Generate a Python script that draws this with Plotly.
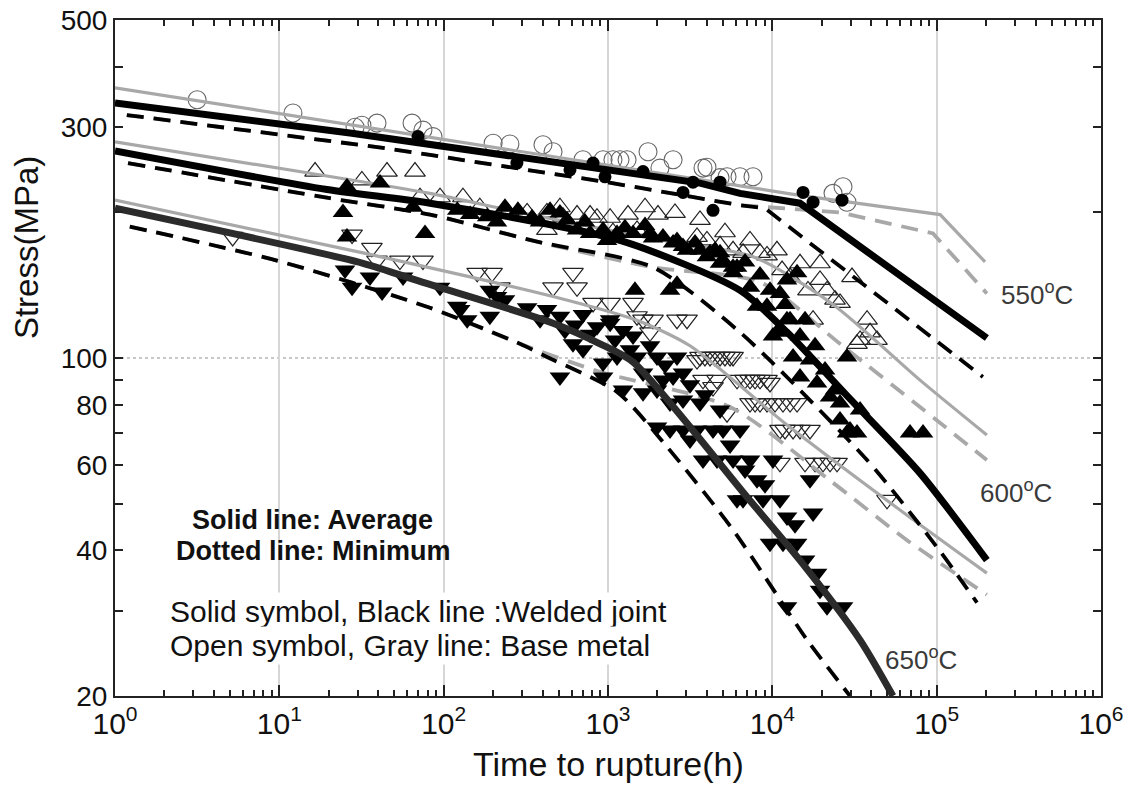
import plotly.graph_objects as go

# ---------------- DATA ----------------
# Axis ticks
x_tick_vals = [1, 10, 100, 1000, 10000, 100000, 1000000]
x_tick_text = ["10<sup>0</sup>", "10<sup>1</sup>", "10<sup>2</sup>", "10<sup>3</sup>",
               "10<sup>4</sup>", "10<sup>5</sup>", "10<sup>6</sup>"]
y_tick_vals = [20, 40, 60, 80, 100, 300, 500]
y_tick_text = ["20", "40", "60", "80", "100", "300", "500"]
y_minor_vals = [30, 50, 70, 90, 200, 400]

# 550 C  base metal (open circles)
t550_base = [3.16, 12.1, 28.9, 31.8, 39.3, 64.2, 74.8, 86.1, 200, 253, 402, 463, 704, 933,
             1072, 1183, 1306, 1752, 2071, 2489, 3786, 4002, 4806, 5300, 6357, 7628,
             23410, 26920, 28460]
s550_base = [342, 321, 300, 303, 306, 306, 296, 287, 278, 277, 276, 267, 257, 257,
             257, 257, 257, 267, 247, 257, 247, 248, 236, 237, 237, 237,
             219, 226, 210]
# 550 C  welded joint (solid circles)
t550_weld = [69.8, 279, 587, 811, 959, 1634, 2860, 3290, 4355, 4806, 15380, 17700, 26550]
s550_weld = [287, 253, 245, 253, 237, 243, 220, 231, 202, 231, 220, 210, 212]

# 600 C  base metal (open up-triangles)
t600_base = [16.5, 31.8, 45.2, 66.9, 71.8, 95, 131, 246, 322, 425, 532, 648, 857, 1030,
             1324, 2014, 1502, 1072, 425, 3481, 4002, 4806, 5768, 6633, 10670, 8414,
             12820, 19510, 21520, 30540, 25820, 17700, 37710, 34190, 43320, 39310, 32750,
             166, 510, 778, 1680, 2557, 3630, 5150, 7315, 9280, 11460, 14740, 16480,
             24060, 19510]
s600_base = [243, 233, 243, 243, 215, 215, 215, 200, 200, 200, 196, 198, 195, 195,
             198, 198, 184, 182, 184, 178, 175, 171, 167, 165, 167, 165,
             147, 145, 138, 147, 130, 120, 120, 109, 109, 113, 107,
             205, 205, 198, 205, 199.5, 193, 182, 175, 163, 152, 157, 138,
             132, 157]
# 600 C  welded joint (solid up-triangles)
t600_weld = [25.8, 41, 24.4, 65, 77, 25.8, 121, 184, 211, 283, 345, 444, 563, 648, 778,
             933, 1135, 1459, 1802, 2161, 2630, 2860, 3630, 4176, 5012, 6097, 2384, 2630,
             986, 1420, 1879, 2489, 3026, 4002, 4806, 5768, 4806, 5768, 7315, 8065, 9280,
             11130, 12280, 14140, 12820, 10670, 14740, 10090, 13370, 16950, 14740, 18710,
             22450, 25820, 29690, 28460, 28460, 32750, 68850, 82600, 12280,
             145, 236, 386, 510, 724, 1268, 1680, 3385, 4480, 6820, 8414, 9680, 11950,
             15810, 18190, 20930, 24060, 34190, 25820]
s600_weld = [226, 230, 200, 205, 181, 178, 202, 196, 191, 202, 195, 202, 193, 184, 181,
             184, 181, 138, 181, 178, 175, 170, 167, 165, 159, 154, 138, 142,
             175, 181, 177, 173, 167, 162, 157, 150, 165, 154, 140, 128, 128,
             136, 145, 150, 120, 113, 111, 111, 100.5, 99, 91.4, 88.8,
             83.1, 80.7, 71, 100.5, 70, 70, 70, 70, 120,
             198, 205, 191, 199.5, 191, 186, 188, 173, 167, 158, 148.5, 138, 129,
             120, 106, 94.5, 85.9, 78.1, 74.4]

# 650 C  base metal (open down-triangles)
t650_base = [5.2, 27.7, 36.6, 39.3, 74.8, 54.2, 160, 197, 220, 463, 612, 648, 811, 1030,
             1420, 1502, 1879, 2630, 3026, 1802, 1634, 4176, 4806, 5768, 3481, 3630, 3890,
             4480, 5150, 5530, 3786, 4605, 6097, 7315, 9280, 6820, 7850, 8414, 7315, 9280,
             11610, 14140, 7850, 8414, 10380, 12820, 5300, 13370, 16950, 11130, 11950,
             14740, 20350, 24760, 15810, 18190, 22450, 4355, 9680, 11130, 49880]
s650_base = [178, 180, 169, 159, 159, 159, 150, 150, 140, 140, 150, 140, 130, 130,
             130, 122, 120, 120, 120, 113, 120, 100.5, 100.5, 100.5, 99, 100.5, 100.5,
             100.5, 100.5, 100.5, 90.1, 90.1, 90.1, 90.1, 90.1, 90.1, 90.1, 90.1, 80.7, 80.7,
             80.7, 80.7, 80.7, 80.7, 80.7, 80.7, 76.9, 71, 71, 71, 71,
             71, 60.7, 60.7, 60.7, 60.7, 60.7, 87.1, 88.8, 60.7, 50.9]
# 650 C  welded joint (solid down-triangles)
t650_weld = [25.1, 27.7, 35.6, 42.2, 56.6, 95, 126, 139, 191, 121, 191, 211, 322, 425,
             510, 857, 1030, 1234, 612, 704, 510, 933, 1135, 1502, 1986, 2630, 1634, 2161,
             2860, 933, 1234, 1634, 1986, 2384, 2860, 3630, 1986, 2384, 2860, 3481, 4355,
             5012, 6357, 3786, 4605, 5768, 7315, 10090, 8065, 16950, 6633, 8775, 11130,
             12280, 17700, 9680, 11610, 14140, 18710, 21520, 26920, 12280, 1030, 1420,
             2489, 6097,
             236, 386, 547, 704, 778, 1103, 1361, 1802, 2223, 3155, 3890, 4806, 3155,
             5530, 6820, 9020, 13740, 15810, 19510, 630]
s650_weld = [152, 140, 147, 137, 147, 140, 126, 120, 138, 128, 122, 134, 127, 126,
             122, 116, 118, 114, 107, 104, 91.4, 97.7, 100.5, 100.5, 100.5, 100.5, 93.1, 90.1,
             93.1, 91.4, 85.9, 84.7, 85.9, 80.7, 81.9, 80.7, 72, 71, 71, 71, 71,
             71, 71, 61.5, 61.5, 61.5, 61.5, 61.5, 56, 56, 50.9, 50.9, 50.9,
             46.9, 47.8, 41.4, 41.4, 41.4, 35.9, 30.6, 30.6, 30.6, 120, 111,
             91.4, 50.9,
             132, 120, 114, 123, 112, 109, 104, 106, 96.7, 88, 83.9, 78.1, 67.7,
             66.1, 58.7, 54.7, 45.2, 38.2, 33.1, 117]

# Master curves (time h, stress MPa)
l550_gs_t = [1, 14700, 105000, 197000]
l550_gs_s = [362, 217, 198, 158]
l550_gd_t = [1.18, 42.7, 82.6, 986, 6360, 25800, 95000, 202000]
l550_gd_s = [318, 272, 263, 231, 207, 200, 181, 136]
l550_bs_t = [1, 26.9, 3630, 6360, 14700, 202000]
l550_bs_s = [337, 292, 230, 219, 209, 110]
l550_bd_t = [1.18, 42.7, 82.6, 986, 6360, 9020, 191000]
l550_bd_s = [318, 272, 263, 231, 207, 204, 91.4]

l600_gs_t = [1, 15.4, 82.6, 291, 1800, 7630, 23400, 79200, 202000]
l600_gs_s = [280, 241, 219, 200, 177, 162, 129, 90, 69.3]
l600_gd_t = [1.2, 20.3, 82.6, 370, 1880, 8410, 25800, 202000]
l600_gd_s = [253, 214, 198, 174, 154, 143.6, 107, 61.5]
l600_bs_t = [1, 19.5, 82.6, 1183, 6360, 12300, 30100, 79200, 202000]
l600_bs_s = [268, 223, 209, 175, 138, 113, 81.9, 57.8, 38.2]
l600_bd_t = [1.2, 20.3, 82.6, 370, 1880, 6360, 37700, 100000, 176000]
l600_bd_s = [253, 214, 198, 174, 154, 113, 61.5, 40.7, 31.2]

l650_gs_t = [1, 32.3, 463, 1566, 3155, 12300, 59800, 202000]
l650_gs_s = [212, 165, 134, 119, 106, 72.7, 48.5, 35.9]
l650_gd_t = [1.23, 9.68, 82.6, 291, 894, 5530, 23400, 66000, 202000]
l650_gd_s = [187, 159, 127, 107, 93.6, 79.2, 55.2, 42.0, 32.4]
l650_bs_t = [1, 32.3, 71.8, 463, 894, 1420, 7010, 14700, 34200, 54200]
l650_bs_s = [204, 157, 144, 118, 107, 98.1, 51.6, 38.2, 26.1, 20]
l650_bd_t = [1.23, 9.68, 82.6, 291, 425, 1135, 2287, 5770, 16300, 29700]
l650_bd_s = [187, 159, 127, 107, 100.5, 85.1, 65.5, 44.1, 26.1, 20]

# ---------------- STYLE ----------------
FONT = "Liberation Sans, Arial, sans-serif"
GRAY = "#a8a8a8"
BLACK = "#000000"
DARK = "#2b2b2b"
DASH = "17px,10px"

fig = go.Figure()


def markers(t, s, symbol, size, color, lw=1.2):
    m = dict(symbol=symbol, size=size, color=color, line=dict(width=lw, color=color))
    fig.add_trace(go.Scatter(x=t, y=s, mode="markers", marker=m, showlegend=False,
                             cliponaxis=True, hoverinfo="x+y"))


def curve(t, s, color, width, dash=None, smooth=False):
    line = dict(color=color, width=width, dash=dash)
    if smooth:
        line["shape"] = "spline"
        line["smoothing"] = 0.7
    fig.add_trace(go.Scatter(x=t, y=s, mode="lines", showlegend=False,
                             line=line, hoverinfo="x+y"))


# open markers (base metal)
markers(t550_base, s550_base, "circle-open", 18, "#666666", 1.1)
markers(t600_base, s600_base, "triangle-up-open", 18, "#222222", 1.2)
markers(t650_base, s650_base, "triangle-down-open", 18, "#222222", 1.2)

# curves: gray (base metal)
curve(l550_gd_t, l550_gd_s, GRAY, 3.8, DASH)
curve(l600_gd_t, l600_gd_s, GRAY, 3.8, DASH, smooth=True)
curve(l650_gd_t, l650_gd_s, GRAY, 3.8, DASH, smooth=True)
curve(l550_gs_t, l550_gs_s, GRAY, 3.2)
curve(l600_gs_t, l600_gs_s, GRAY, 3.2, smooth=True)
curve(l650_gs_t, l650_gs_s, GRAY, 3.2, smooth=True)
# curves: black dashed (welded joint minimum)
curve(l550_bd_t, l550_bd_s, BLACK, 3.8, DASH)
curve(l600_bd_t, l600_bd_s, BLACK, 3.8, DASH, smooth=True)
curve(l650_bd_t, l650_bd_s, BLACK, 3.8, DASH, smooth=True)

# solid markers (welded joint)
markers(t550_weld, s550_weld, "circle", 13, BLACK, 0)
markers(t600_weld, s600_weld, "triangle-up", 18, BLACK, 0)
markers(t650_weld, s650_weld, "triangle-down", 18, BLACK, 0)

# solid black curves (welded joint average)
curve(l550_bs_t, l550_bs_s, BLACK, 7)
curve(l600_bs_t, l600_bs_s, BLACK, 7, smooth=True)
curve(l650_bs_t, l650_bs_s, DARK, 7, smooth=True)

x_minor = [k * 10 ** d for d in range(0, 6) for k in range(2, 10)]

# The page body adds an 8px margin, so the figure is sized/offset to compensate
fig.update_layout(
    width=1123, height=778,
    margin=dict(l=107, r=30, t=12, b=90, autoexpand=False),
    paper_bgcolor="white", plot_bgcolor="white",
    font=dict(family=FONT, color="#111111"),
    showlegend=False,
    xaxis=dict(
        type="log", range=[0, 6], automargin=False, ticklabeloverflow="allow",
        tickmode="array", tickvals=x_tick_vals, ticktext=x_tick_text,
        tickfont=dict(size=30, family=FONT, color="#111111"),
        ticks="inside", ticklen=11, tickwidth=1.5, tickcolor="#222222",
        showline=True, linecolor="#222222", linewidth=2, mirror="ticks",
        showgrid=True, gridcolor="#d6d6d6", gridwidth=1.5,
        zeroline=False,
        minor=dict(tickmode="array", tickvals=x_minor, ticks="inside", ticklen=6,
                   tickwidth=1.5, tickcolor="#222222", showgrid=False),
    ),
    yaxis=dict(
        type="log", range=[1.30103, 2.69897], automargin=False, ticklabeloverflow="allow",
        tickmode="array", tickvals=y_tick_vals, ticktext=y_tick_text,
        tickfont=dict(size=28, family=FONT, color="#111111"),
        ticks="inside", ticklen=8, tickwidth=1.5, tickcolor="#222222",
        showline=True, linecolor="#222222", linewidth=2, mirror="ticks",
        showgrid=False, zeroline=False,
        minor=dict(tickmode="array", tickvals=y_minor_vals, ticks="inside", ticklen=8,
                   tickwidth=1.5, tickcolor="#222222", showgrid=False),
    ),
)

# horizontal dotted reference line at 100 MPa
fig.add_shape(type="line", xref="paper", yref="y", x0=0, x1=1, y0=100, y1=100,
              line=dict(color="#c8c8c8", width=2, dash="dot"), layer="below")

ann = []


def label(text, x, y, size, xanchor="center", color="#111111", bold=False, bg=None,
          angle=0):
    if bold:
        text = "<b>" + text + "</b>"
    d = dict(text=text, x=x, y=y, xref="paper", yref="paper", showarrow=False,
             xanchor=xanchor, yanchor="middle", textangle=angle,
             font=dict(family=FONT, size=size, color=color))
    if bg:
        d["bgcolor"] = bg
        d["borderpad"] = 2
    ann.append(d)


label("550<sup>o</sup>C", 0.935, 0.596, 26, color="#3a3a3a")
label("600<sup>o</sup>C", 0.914, 0.302, 26, color="#3a3a3a")
label("650<sup>o</sup>C", 0.817, 0.055, 26, color="#3a3a3a")
label("Solid line: Average", 0.2008, 0.2604, 27, bold=True)
label("Dotted line: Minimum", 0.2008, 0.2145, 27, bold=True)
label("Solid symbol, Black line :Welded joint", 0.0527, 0.1257, 30, xanchor="left", bg="white")
label("Open symbol, Gray line: Base metal", 0.0527, 0.074, 30, xanchor="left", bg="white")
label("Stress(MPa)", -0.0903, 0.664, 33, angle=-90)
label("Time to rupture(h)", 0.5, -0.1006, 34)
fig.update_layout(annotations=ann)

fig.write_html("out.html")
